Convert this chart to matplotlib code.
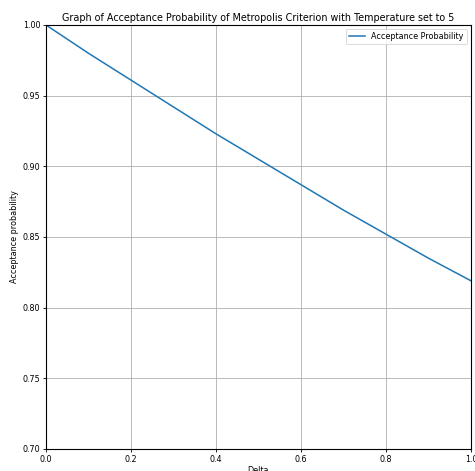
import matplotlib
matplotlib.use("Agg")
import matplotlib.pyplot as plt

delta = [0.0, 0.1, 0.2, 0.3, 0.4, 0.5, 0.6, 0.7, 0.8, 0.9, 1.0]
acceptance = [1.000, 0.980, 0.961, 0.942, 0.923, 0.905, 0.887, 0.869, 0.852, 0.835, 0.819]
xticks = [0.0, 0.2, 0.4, 0.6, 0.8, 1.0]
yticks = [0.70, 0.75, 0.80, 0.85, 0.90, 0.95, 1.00]

s = 0.58
fig = plt.figure(figsize=(4.75, 4.71), dpi=100)
ax = fig.add_axes([46/475, 22/471, 425/475, 424/471])
ax.plot(delta, acceptance, color="#1f77b4", lw=1.1, label="Acceptance Probability")
ax.set_xlim(0, 1)
ax.set_ylim(0.70, 1.00)
ax.set_xticks(xticks)
ax.set_xticklabels([f"{v:.1f}" for v in xticks])
ax.set_yticks(yticks)
ax.set_yticklabels([f"{v:.2f}" for v in yticks])
ax.grid(True, color="#b0b0b0", lw=0.6)
ax.tick_params(labelsize=10*s, length=3.5*s, width=0.6, pad=3.5*s)
for sp in ax.spines.values():
    sp.set_linewidth(0.8)
ax.set_xlabel("Delta", fontsize=10*s, labelpad=3*s)
ax.set_ylabel("Acceptance probability", fontsize=10*s, labelpad=4*s)
ax.set_title("Graph of Acceptance Probability of Metropolis Criterion with Temperature set to 5",
             fontsize=12*s, pad=5*s)
leg = ax.legend(loc="upper right", fontsize=10*s, handlelength=2, borderpad=0.4)
leg.get_frame().set_linewidth(0.6)
fig.savefig("out.png", dpi=100)
